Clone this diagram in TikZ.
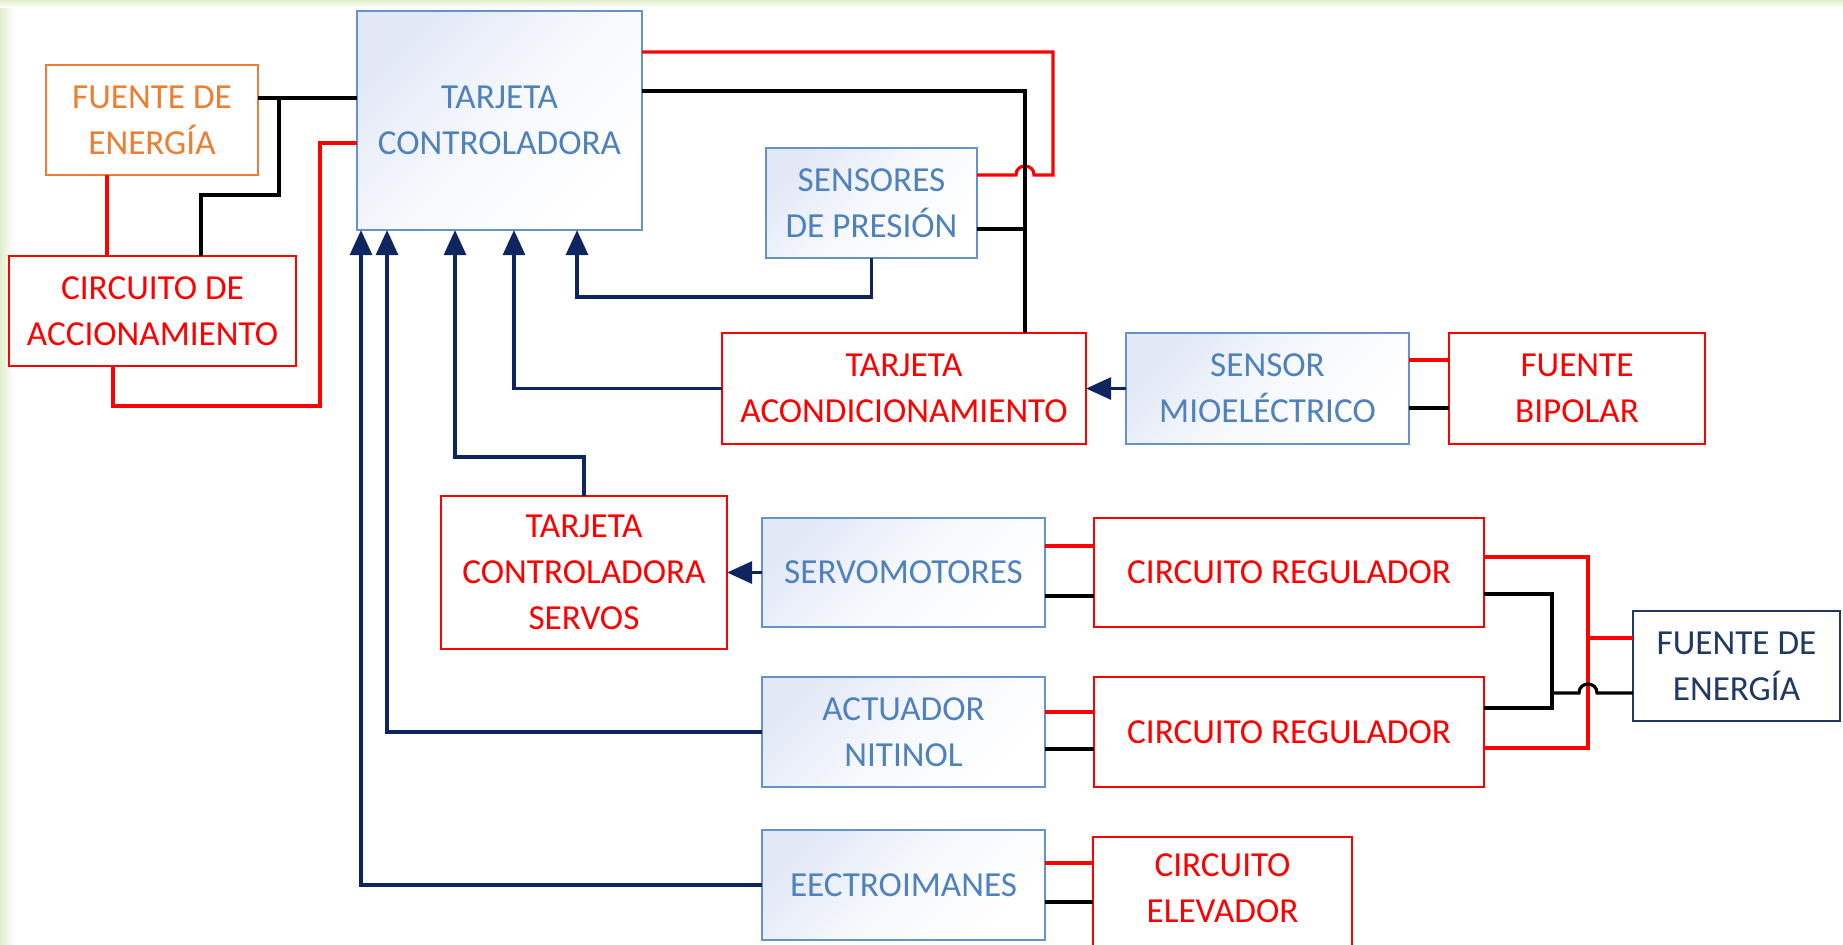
\documentclass[tikz,border=0pt]{standalone}
\usepackage{fontspec}
\setmainfont{Carlito}
\usetikzlibrary{arrows.meta, positioning, calc}
\definecolor{steeltext}{HTML}{4F81BD}
\definecolor{steelline}{HTML}{6592C8}
\definecolor{skyfill}{HTML}{E2E9F6}
\definecolor{signalred}{HTML}{FF0000}
\definecolor{tangerine}{HTML}{ED7D31}
\definecolor{navyline}{HTML}{0E2560}
\definecolor{navybox}{HTML}{1F3864}
\definecolor{edgegreen}{HTML}{E0EFCB}

\begin{document}
\begin{tikzpicture}[x=0.01cm, y=-0.01cm,
  box/.style={draw, line width=0.7pt, align=center, inner sep=0pt, outer sep=0pt,
    font=\fontsize{10pt}{13pt}\selectfont},
  bluebox/.style={box, draw=steelline, text=steeltext,
    top color=skyfill, bottom color=white, middle color=white!70!skyfill, shading angle=45},
  redbox/.style={box, draw=signalred, text=signalred, fill=white},
  orangebox/.style={box, draw=tangerine, text=tangerine, fill=white},
  navybox/.style={box, draw=navybox, text=navybox, fill=white},
  redwire/.style={line width=0.9pt, signalred},
  blackwire/.style={line width=0.9pt, black},
  sigline/.style={line width=0.9pt, navyline,
    -{Triangle[length=0.25cm, width=0.22cm]}}
]
  \useasboundingbox (0,0) rectangle (1843,944);
  \clip (0,0) rectangle (1843,944);
  % faint page edge
  \shade[left color=edgegreen, right color=white] (0,0) rectangle (14,944);
  \shade[top color=edgegreen, bottom color=white] (0,0) rectangle (1843,7);

  % Blocks
  \node[bluebox, minimum width=2.85cm, minimum height=2.19cm] (ctrl) at (499.5,120.5) {TARJETA\\CONTROLADORA};
  \node[orangebox, minimum width=2.12cm, minimum height=1.10cm] (fuenteA) at (152,120) {FUENTE DE\\ENERGÍA};
  \node[redbox, minimum width=2.87cm, minimum height=1.10cm] (accion) at (152.5,311) {CIRCUITO DE\\ACCIONAMIENTO};
  \node[bluebox, minimum width=2.11cm, minimum height=1.10cm] (presion) at (871.5,203) {SENSORES\\DE PRESIÓN};
  \node[redbox, minimum width=3.64cm, minimum height=1.11cm] (acond) at (904,388.5) {TARJETA\\ACONDICIONAMIENTO};
  \node[bluebox, minimum width=2.83cm, minimum height=1.11cm] (mioel) at (1267.5,388.5) {SENSOR\\MIOELÉCTRICO};
  \node[redbox, minimum width=2.56cm, minimum height=1.11cm] (bipolar) at (1577,388.5) {FUENTE\\BIPOLAR};
  \node[redbox, minimum width=2.86cm, minimum height=1.53cm] (servos) at (584,572.5) {TARJETA\\CONTROLADORA\\SERVOS};
  \node[bluebox, minimum width=2.83cm, minimum height=1.09cm] (servom) at (903.5,572.5) {SERVOMOTORES};
  \node[redbox, minimum width=3.90cm, minimum height=1.09cm] (regA) at (1289,572.5) {CIRCUITO REGULADOR};
  \node[bluebox, minimum width=2.83cm, minimum height=1.10cm] (nitinol) at (903.5,732) {ACTUADOR\\NITINOL};
  \node[redbox, minimum width=3.90cm, minimum height=1.10cm] (regB) at (1289,732) {CIRCUITO REGULADOR};
  \node[bluebox, minimum width=2.83cm, minimum height=1.10cm] (iman) at (903.5,885) {EECTROIMANES};
  \node[redbox, minimum width=2.59cm, minimum height=1.14cm, text depth=0.12cm] (elev) at (1222.5,894) {CIRCUITO\\ELEVADOR};
  \node[navybox, minimum width=2.07cm, minimum height=1.10cm] (fuenteB) at (1736.5,666) {FUENTE DE\\ENERGÍA};

  % Supply of the controller
  \draw[blackwire] (fuenteA.east |- 0,98) -- (ctrl.west |- 0,98);
  \draw[blackwire] (279,98) |- (201,195) -- (accion.north -| 201,0);
  \draw[redwire] (fuenteA.south -| 107,0) -- (accion.north -| 107,0);
  \draw[redwire] (accion.south -| 113,0) |- (320,406) |- (ctrl.west |- 0,143);

  % Controller to pressure sensors and conditioning board
  \draw[redwire] (ctrl.east |- 0,52) -| (1053,175) -- (1034,175)
    .. controls (1034,163) and (1016,163) .. (1016,175) -- (presion.east |- 0,175);
  \draw[blackwire] (ctrl.east |- 0,91) -| (acond.north -| 1025,0);
  \draw[blackwire] (presion.east |- 0,229) -- (1025,229);

  % Signals into the controller
  \draw[sigline] (presion.south) |- (577,297) -- (ctrl.south -| 577,0);
  \draw[sigline] (acond.west) -| (ctrl.south -| 514,0);
  \draw[sigline] (servos.north) |- (455,457) -- (ctrl.south -| 455,0);
  \draw[sigline] (nitinol.west) -| (ctrl.south -| 387,0);
  \draw[sigline] (iman.west) -| (ctrl.south -| 361,0);
  \draw[sigline] (mioel.west) -- (acond.east);
  \draw[sigline] (servom.west) -- (servos.east);

  % Supply pairs
  \foreach \from/\to/\ry/\ky in {mioel/bipolar/360/408, servom/regA/546/596,
                                 nitinol/regB/712/749, iman/elev/863/902}{
    \draw[redwire] (\from.east |- 0,\ry) -- (\to.west |- 0,\ry);
    \draw[blackwire] (\from.east |- 0,\ky) -- (\to.west |- 0,\ky);
  }

  % Regulators to power source
  \draw[redwire] (regA.east |- 0,557) -| (1588,748) -- (regB.east |- 0,748);
  \draw[redwire] (1588,638) -- (fuenteB.west |- 0,638);
  \draw[blackwire] (regA.east |- 0,594) -| (1552,708) -- (regB.east |- 0,708);
  \draw[blackwire] (1552,693) -- (1579,693)
    .. controls (1579,681) and (1597,681) .. (1597,693) -- (fuenteB.west |- 0,693);
\end{tikzpicture}
\end{document}
